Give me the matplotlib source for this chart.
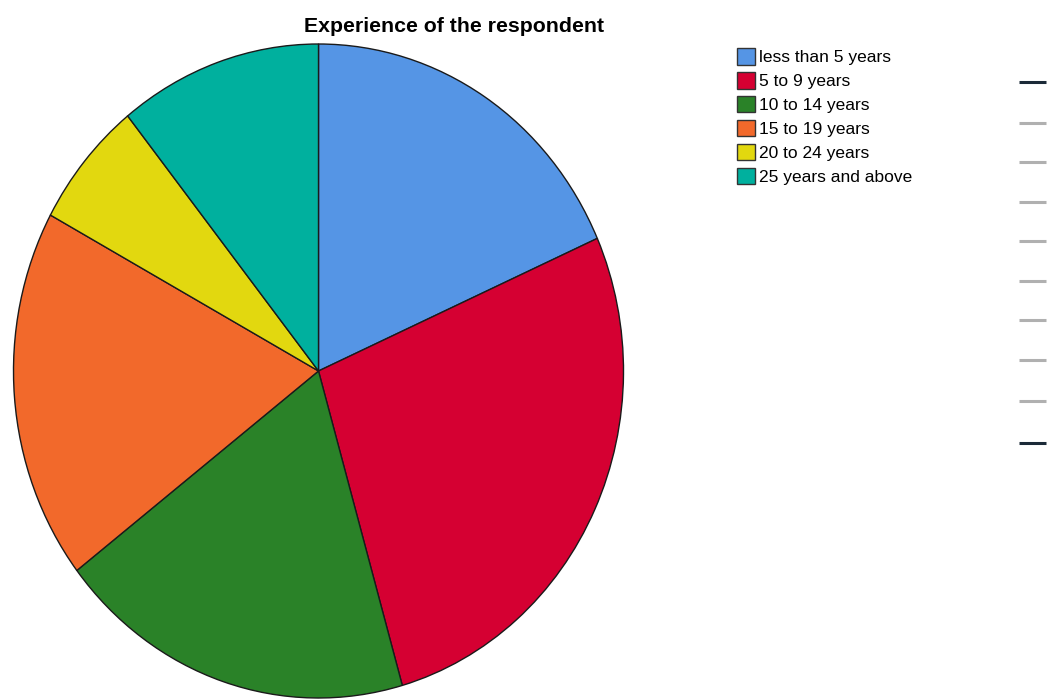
import matplotlib
matplotlib.use("Agg")
import matplotlib.pyplot as plt
from matplotlib.lines import Line2D

# respondents per experience band
categories = ["less than 5 years", "5 to 9 years", "10 to 14 years",
              "15 to 19 years", "20 to 24 years", "25 years and above"]
counts = [29, 43, 30, 29, 10, 17]
colors = ["#5595E5", "#D50032", "#2A8228", "#F2692B", "#E2D80F", "#00B09E"]

plt.rcParams['font.family'] = ['Liberation Sans', 'DejaVu Sans']

W, H = 1050, 699
fig = plt.figure(figsize=(W / 100, H / 100), dpi=100)

# pie is drawn slightly taller than wide
left, right, top, bottom = 13.5, 623.5, 44, 698
ax = fig.add_axes([left / W, (H - bottom) / H, (right - left) / W, (bottom - top) / H])
wedges, _ = ax.pie(counts, colors=colors, startangle=90, counterclock=False,
                   radius=1, wedgeprops=dict(edgecolor="#1a1a1a", linewidth=1.0))
ax.set_aspect('auto')
ax.set_xlim(-1, 1)
ax.set_ylim(-1, 1)
ax.axis('off')

fig.text(454.5 / W, 1 - 27 / H, "Experience of the respondent", ha="center", va="center",
         fontsize=15.3, fontweight="bold")

leg = fig.legend(wedges, categories, loc="upper left", bbox_to_anchor=(737 / W, 1 - 48.5 / H),
                 frameon=False, fontsize=12.5, handlelength=1.05, handleheight=1.05,
                 handletextpad=0.2, labelspacing=0.4, borderpad=0, borderaxespad=0)
for h in leg.legend_handles:
    h.set_edgecolor("#333333")
    h.set_linewidth(1.0)

# scale marks on the right edge
marks_y = [81.5, 123, 162, 202, 241, 281, 320, 360, 401, 443]
for i, y in enumerate(marks_y):
    c = "#1b2a38" if i in (0, len(marks_y) - 1) else "#b0b0b0"
    fig.add_artist(Line2D([1019 / W, 1046 / W], [1 - y / H, 1 - y / H], color=c,
                          linewidth=2.2, solid_capstyle="butt"))

fig.savefig("out.png", dpi=100)
